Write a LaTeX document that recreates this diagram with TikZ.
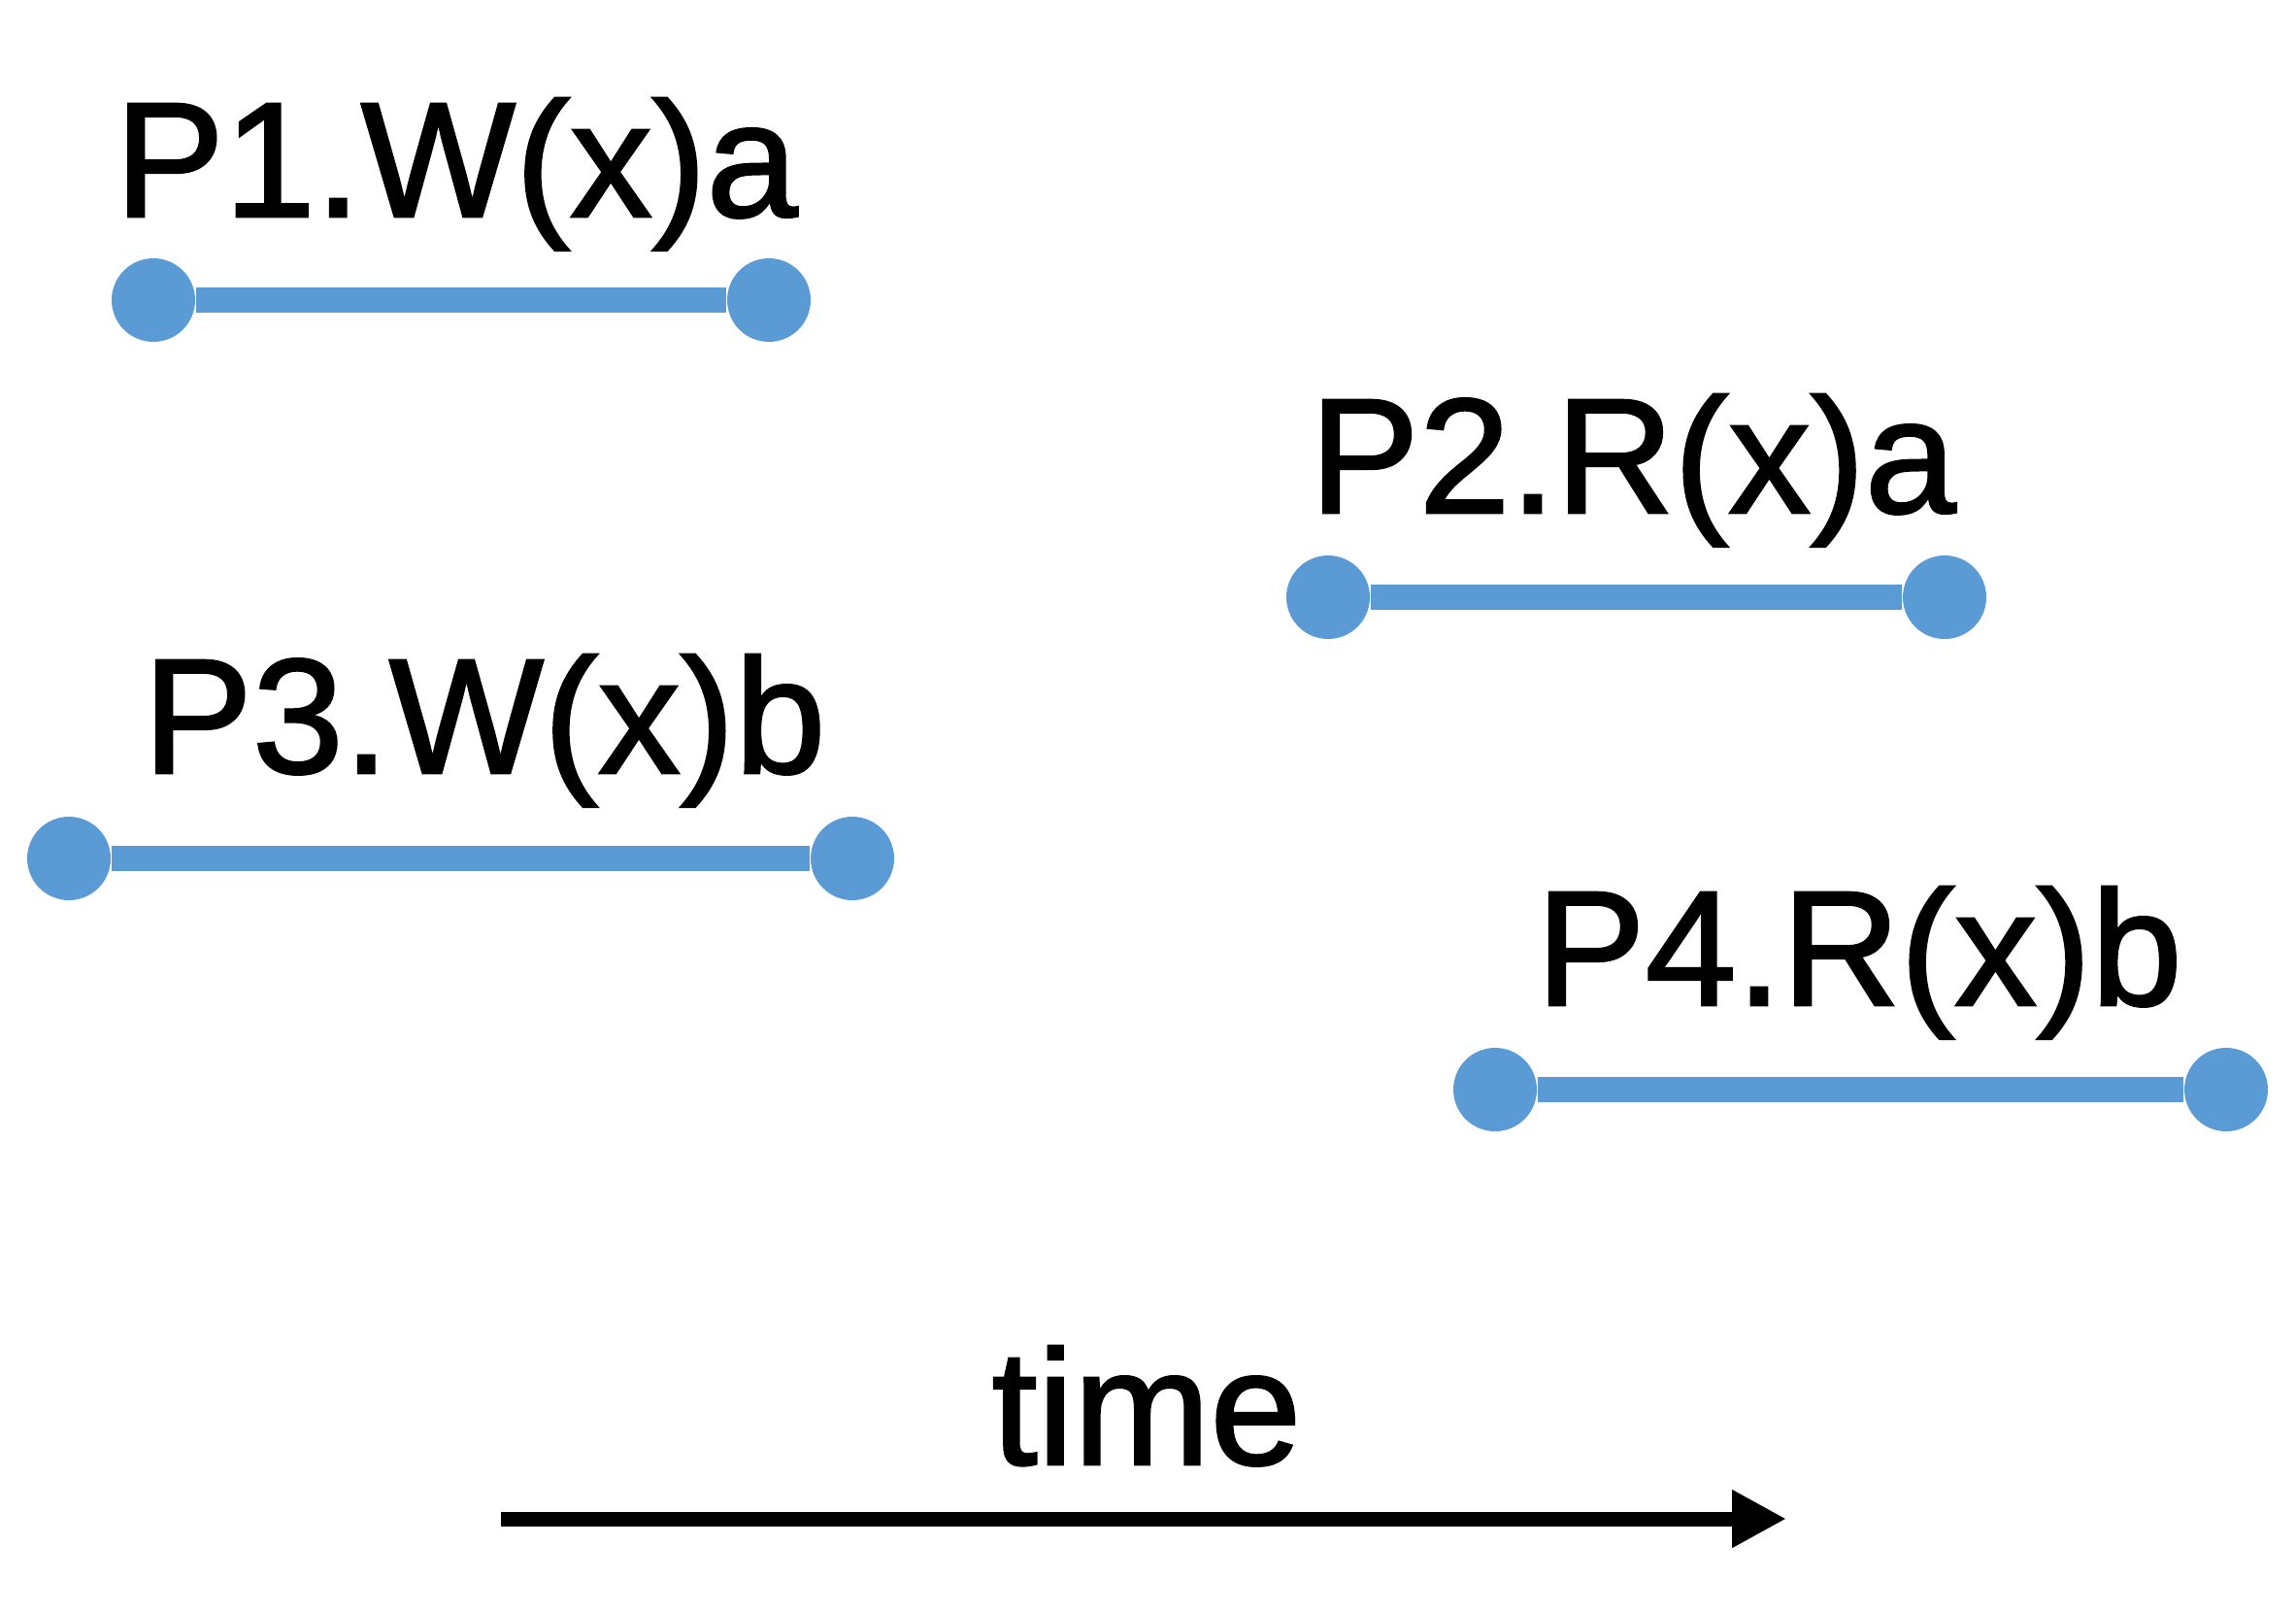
\documentclass[tikz,border=0pt]{standalone}
\usepackage{fontspec}
\setmainfont{Liberation Sans}
\newfontfamily\opfont[FakeBold=1.5]{Liberation Sans}
\usepackage{tikz}
\usetikzlibrary{arrows.meta}
\usepackage{xcolor}
\definecolor{opblue}{HTML}{5B9BD5}

\begin{document}
\begin{tikzpicture}[
    opdot/.style={circle, fill=opblue, inner sep=0pt, minimum size=0.86cm},
    opline/.style={opblue, line width=0.26cm},
    oplabel/.style={anchor=base, inner sep=0pt, font=\opfont\fontsize{48}{58}\selectfont}
    ]
    \useasboundingbox (0, 0) rectangle (23.65, -16.59);

    % Operations
    \node[opdot] (w1a) at (1.58, -3.09) {};
    \node[opdot] (w1b) at (7.92, -3.09) {};
    \draw[opline] (w1a) -- (w1b);
    \node[oplabel] (w1) at (4.70, -2.23) {P1.W(x)a};

    \node[opdot] (r2a) at (13.68, -6.15) {};
    \node[opdot] (r2b) at (20.03, -6.15) {};
    \draw[opline] (r2a) -- (r2b);
    \node[oplabel] (r2) at (16.82, -5.28) {P2.R(x)a};

    \node[opdot] (w3a) at (0.71, -8.84) {};
    \node[opdot] (w3b) at (8.78, -8.84) {};
    \draw[opline] (w3a) -- (w3b);
    \node[oplabel] (w3) at (4.99, -7.96) {P3.W(x)b};

    \node[opdot] (r4a) at (15.40, -11.22) {};
    \node[opdot] (r4b) at (22.93, -11.22) {};
    \draw[opline] (r4a) -- (r4b);
    \node[oplabel] (r4) at (19.15, -10.35) {P4.R(x)b};

    % Time axis
    \coordinate (t0) at (5.16, -15.64);
    \coordinate (t1) at (18.40, -15.64);
    \draw[black, line width=0.15cm, -{Triangle[length=0.56cm, width=0.56cm]}] (t0) -- (t1);
    \node[oplabel] (time) at (11.81, -15.08) {time};
\end{tikzpicture}
\end{document}
